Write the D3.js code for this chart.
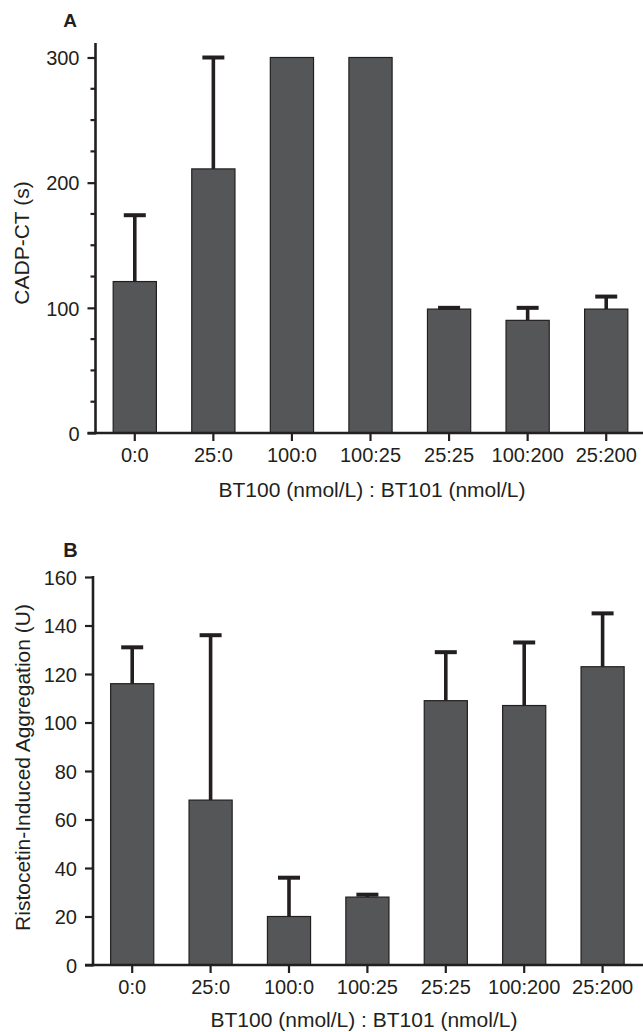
<!DOCTYPE html>
<html><head><meta charset="utf-8">
<script src="https://cdn.jsdelivr.net/npm/d3@7"></script>
<style>
html,body{margin:0;padding:0;background:#fff;}
svg{display:block;font-family:"Liberation Sans",Arial,Helvetica,sans-serif;}
</style></head>
<body>
<script>
const categories = ["0:0","25:0","100:0","100:25","25:25","100:200","25:200"];
const valuesA = [121, 211, 300, 300, 99, 90, 99];
const errTopA = [174, 300, 300, 300, 100, 100, 109];
const valuesB = [116, 68, 20, 28, 109, 107, 123];
const errTopB = [131, 136, 36, 29, 129, 133, 145];
const ticksA = [0, 100, 200, 300];
const minorTicksA = [25, 50, 75, 125, 150, 175, 225, 250, 275];
const ticksB = [0, 20, 40, 60, 80, 100, 120, 140, 160];

const ink = "#231f20", barFill = "#555658";
const W = 643, H = 1032;
const svg = d3.select("body").append("svg").attr("width", W).attr("height", H);

function panel(o) {
  const g = svg.append("g");
  const x = d3.scaleBand().domain(categories).range(o.xRange).paddingInner(0.45).paddingOuter(0.225);
  const y = d3.scaleLinear().domain(o.yDomain).range(o.yRange);
  const ax = o.xRange[0];
  // bars
  g.selectAll("rect.bar").data(o.values).join("rect")
    .attr("x", (d, i) => x(categories[i]))
    .attr("width", x.bandwidth())
    .attr("y", d => y(d))
    .attr("height", d => y(0) - y(d))
    .attr("fill", barFill).attr("stroke", ink).attr("stroke-width", 1.2);
  // error bars
  const eb = g.selectAll("g.err").data(o.errTop).join("g");
  eb.append("line")
    .attr("x1", (d, i) => x(categories[i]) + x.bandwidth() / 2)
    .attr("x2", (d, i) => x(categories[i]) + x.bandwidth() / 2)
    .attr("y1", (d, i) => y(o.values[i]))
    .attr("y2", d => y(d))
    .attr("stroke", ink).attr("stroke-width", 3.6);
  eb.append("line")
    .attr("x1", (d, i) => x(categories[i]) + x.bandwidth() / 2 - 11)
    .attr("x2", (d, i) => x(categories[i]) + x.bandwidth() / 2 + 11)
    .attr("y1", d => y(d)).attr("y2", d => y(d))
    .attr("stroke", ink).attr("stroke-width", 4)
    .attr("display", (d, i) => (d - o.values[i]) > 0.01 ? null : "none");
  // y axis
  const yAxis = d3.axisLeft(y).tickValues(o.ticks).tickSize(8).tickPadding(8).tickFormat(d3.format("d"));
  const ya = g.append("g").attr("transform", `translate(${ax},0)`).call(yAxis);
  ya.select(".domain").remove();
  ya.selectAll(".tick line").attr("stroke", ink).attr("stroke-width", 2.2);
  ya.selectAll(".tick text").attr("fill", ink).attr("font-size", 20).attr("font-family", null).attr("dy", "0.36em");
  if (o.minor) {
    g.selectAll("line.minor").data(o.minor).join("line")
      .attr("x1", ax - 5).attr("x2", ax).attr("y1", d => y(d)).attr("y2", d => y(d))
      .attr("stroke", ink).attr("stroke-width", 2.2);
  }
  g.append("line").attr("x1", ax).attr("x2", ax).attr("y1", y(0) + 1.2).attr("y2", o.axisTop)
    .attr("stroke", ink).attr("stroke-width", 2.6);
  // x axis
  const xAxis = d3.axisBottom(x).tickSize(8).tickPadding(7);
  const xa = g.append("g").attr("transform", `translate(0,${y(0)})`).call(xAxis);
  xa.select(".domain").remove();
  xa.selectAll(".tick line").attr("stroke", ink).attr("stroke-width", 2.2);
  xa.selectAll(".tick text").attr("fill", ink).attr("font-size", 20).attr("font-family", null).attr("dy", "0.72em");
  g.append("line").attr("x1", ax - 8).attr("x2", W).attr("y1", y(0)).attr("y2", y(0))
    .attr("stroke", ink).attr("stroke-width", 2.6);
  // titles
  g.append("text").attr("x", o.xTitleX).attr("y", y(0) + o.xTitleDy)
    .attr("text-anchor", "middle").attr("font-size", 21).attr("fill", ink)
    .text("BT100 (nmol/L) : BT101 (nmol/L)");
  g.append("text").attr("transform", `translate(${o.yTitleX},${o.yTitleY}) rotate(-90)`)
    .attr("text-anchor", "middle").attr("font-size", 21).attr("fill", ink).text(o.yTitle);
  g.append("text").attr("x", o.letterX).attr("y", o.letterY).attr("text-anchor", "middle")
    .attr("font-weight", "bold").attr("font-size", o.letterSize).attr("fill", ink).text(o.letter);
}

panel({
  values: valuesA, errTop: errTopA, xRange: [95.5, 645.5], yDomain: [0, 300], yRange: [433, 57.5],
  ticks: ticksA, minor: minorTicksA, axisTop: 43, yTitle: "CADP-CT (s)", yTitleX: 28.5, yTitleY: 243,
  xTitleX: 372, xTitleDy: 64,
  letter: "A", letterX: 70, letterY: 26.5, letterSize: 19
});
panel({
  values: valuesB, errTop: errTopB, xRange: [93, 641.8], yDomain: [0, 160], yRange: [965, 577],
  ticks: ticksB, minor: null, axisTop: 576, yTitle: "Ristocetin-Induced Aggregation (U)", yTitleX: 30, yTitleY: 767.5,
  xTitleX: 364, xTitleDy: 62,
  letter: "B", letterX: 70.5, letterY: 557, letterSize: 20
});
</script>
</body></html>
